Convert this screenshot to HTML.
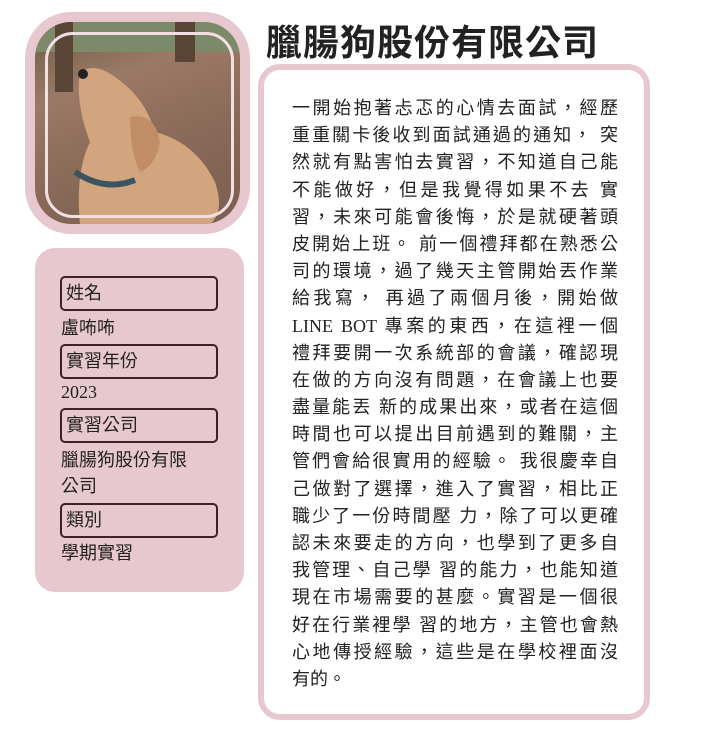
<!DOCTYPE html>
<html><head><meta charset="utf-8">
<style>
body{margin:0;width:712px;height:756px;background:#fff;position:relative;overflow:hidden;font-family:"Liberation Serif","Noto Sans CJK TC",sans-serif;color:#222}
.abs{position:absolute}
#photo-frame{left:25px;top:12px;width:225px;height:222px;background:#e8c8cf;border-radius:46px}
#photo{left:35px;top:22px;width:205px;height:202px;border-radius:36px;overflow:hidden;background:linear-gradient(160deg,#6a5a48 0%,#9a7a66 30%,#8a6a58 60%,#7a5e50 100%)}
#photo-border{left:45px;top:32px;width:183px;height:180px;border:3px solid #f2dfe3;border-radius:28px}
#title{left:266px;top:14px;font-size:36px;font-weight:bold;font-family:"Liberation Sans","Noto Sans CJK TC",sans-serif;color:#222;letter-spacing:1px}
#side{left:35px;top:248px;width:209px;height:344px;background:#e8c8cf;border-radius:20px}
.label{position:absolute;left:60px;height:31px;border:2px solid #3a2226;border-radius:5px;font-size:18px;line-height:31px;padding-left:4px;width:150px}
.val{position:absolute;left:61px;font-size:18px;line-height:26px}
#card{left:258px;top:64px;width:380px;height:644px;border:6px solid #e8c8cf;border-radius:22px;background:#fff}
#body{left:292px;top:95px;width:326px;font-size:18px;line-height:27.2px}
#body div{text-align:justify;text-align-last:justify;white-space:nowrap;height:27.2px}
#body div.last{text-align-last:left}
</style></head><body>
<div class="abs" id="photo-frame"></div>
<div class="abs" id="photo">
<svg width="205" height="202" viewBox="0 0 205 202">
<rect x="0" y="0" width="205" height="30" fill="#7d8a6a"/>
<rect x="20" y="0" width="18" height="70" fill="#5a4436"/>
<rect x="140" y="0" width="20" height="40" fill="#5a4436"/>
<path d="M45 50 Q60 40 80 55 Q110 75 120 110 Q160 120 180 160 Q190 190 175 202 L45 202 Q40 150 55 120 Q40 80 45 50Z" fill="#d2a57e"/>
<path d="M95 95 Q120 90 125 120 Q120 145 105 150 Q95 130 95 95Z" fill="#c08d66"/>
<path d="M40 150 Q70 170 100 158" stroke="#3a5560" stroke-width="6" fill="none"/>
<circle cx="48" cy="52" r="5" fill="#222"/>
</svg>
</div>
<div class="abs" id="photo-border"></div>
<div class="abs" id="title">臘腸狗股份有限公司</div>
<div class="abs" id="side"></div>
<div class="label" style="top:276px">姓名</div>
<div class="val" style="top:315px">盧咘咘</div>
<div class="label" style="top:344px">實習年份</div>
<div class="val" style="top:379px">2023</div>
<div class="label" style="top:408px">實習公司</div>
<div class="val" style="top:447px">臘腸狗股份有限<br>公司</div>
<div class="label" style="top:503px">類別</div>
<div class="val" style="top:540px">學期實習</div>
<div class="abs" id="card"></div>
<div class="abs" id="body">
<div>一開始抱著忐忑的心情去面試，經歷</div>
<div>重重關卡後收到面試通過的通知， 突</div>
<div>然就有點害怕去實習，不知道自己能</div>
<div>不能做好，但是我覺得如果不去 實</div>
<div>習，未來可能會後悔，於是就硬著頭</div>
<div>皮開始上班。 前一個禮拜都在熟悉公</div>
<div>司的環境，過了幾天主管開始丟作業</div>
<div>給我寫， 再過了兩個月後，開始做</div>
<div>LINE BOT 專案的東西，在這裡一個</div>
<div>禮拜要開一次系統部的會議，確認現</div>
<div>在做的方向沒有問題，在會議上也要</div>
<div>盡量能丟 新的成果出來，或者在這個</div>
<div>時間也可以提出目前遇到的難關，主</div>
<div>管們會給很實用的經驗。 我很慶幸自</div>
<div>己做對了選擇，進入了實習，相比正</div>
<div>職少了一份時間壓 力，除了可以更確</div>
<div>認未來要走的方向，也學到了更多自</div>
<div>我管理、自己學 習的能力，也能知道</div>
<div>現在市場需要的甚麼。實習是一個很</div>
<div>好在行業裡學 習的地方，主管也會熱</div>
<div>心地傳授經驗，這些是在學校裡面沒</div>
<div class="last">有的。</div>
</div>
</body></html>
